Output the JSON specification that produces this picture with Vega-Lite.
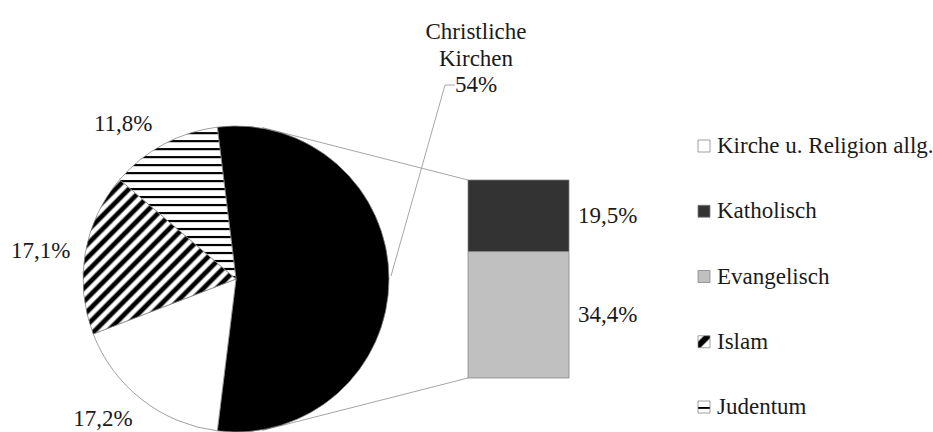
{
  "$schema": "https://vega.github.io/schema/vega-lite/v6.json",
  "width": 933,
  "height": 432,
  "autosize": {"type": "none"},
  "padding": 0,
  "background": "white",
  "config": {
    "view": {"stroke": null},
    "text": {"font": "Liberation Serif, Tinos, Times New Roman, DejaVu Serif, serif", "fontSize": 23, "fill": "#1a1a1a"}
  },
  "datasets": {
    "pie": [
      {"category": "Christliche Kirchen", "value": 53.9, "label": "Christliche Kirchen 54%"},
      {"category": "Kirche u. Religion allg.", "value": 17.2, "label": "17,2%"},
      {"category": "Islam", "value": 17.1, "label": "17,1%"},
      {"category": "Judentum", "value": 11.8, "label": "11,8%"}
    ],
    "bar": [
      {"category": "Katholisch", "value": 19.5, "label": "19,5%"},
      {"category": "Evangelisch", "value": 34.4, "label": "34,4%"}
    ],
    "legend": [
      {"category": "Kirche u. Religion allg."},
      {"category": "Katholisch"},
      {"category": "Evangelisch"},
      {"category": "Islam"},
      {"category": "Judentum"}
    ]
  },
  "resolve": {"scale": {"y": "independent"}},
  "layer": [
    {
      "data": {"values": [{}]},
      "mark": {"type": "rule", "stroke": "#a6a6a6", "strokeWidth": 1},
      "encoding": {"x": {"value": 262}, "y": {"value": 127.5}, "x2": {"value": 468}, "y2": {"value": 180}}
    },
    {
      "data": {"values": [{}]},
      "mark": {"type": "rule", "stroke": "#a6a6a6", "strokeWidth": 1},
      "encoding": {"x": {"value": 262}, "y": {"value": 430.5}, "x2": {"value": 468}, "y2": {"value": 378}}
    },
    {
      "data": {"name": "pie"},
      "mark": {"type": "arc", "radius": 153, "stroke": "#808080", "strokeWidth": 0.75},
      "encoding": {
        "x": {"value": 236},
        "y": {"value": 279},
        "theta": {"field": "value", "type": "quantitative", "stack": true, "scale": {"range": [-0.12252, 6.16067]}},
        "order": {"field": "value", "sort": "descending"},
        "detail": {"field": "category"},
        "fill": {
          "condition": [
            {"test": "datum.category === 'Christliche Kirchen'", "value": "#000000"},
            {"test": "datum.category === 'Judentum'", "value": {"gradient": "linear", "x1": 0, "y1": 0, "x2": 0, "y2": 1, "stops": [
              {"offset": 0, "color": "#ffffff"},
              {"offset": 0.0289, "color": "#ffffff"}, {"offset": 0.0358, "color": "#000000"}, {"offset": 0.0432, "color": "#000000"}, {"offset": 0.0500, "color": "#ffffff"},
              {"offset": 0.0816, "color": "#ffffff"}, {"offset": 0.0884, "color": "#000000"}, {"offset": 0.0958, "color": "#000000"}, {"offset": 0.1026, "color": "#ffffff"},
              {"offset": 0.1342, "color": "#ffffff"}, {"offset": 0.1411, "color": "#000000"}, {"offset": 0.1484, "color": "#000000"}, {"offset": 0.1553, "color": "#ffffff"},
              {"offset": 0.1868, "color": "#ffffff"}, {"offset": 0.1937, "color": "#000000"}, {"offset": 0.2011, "color": "#000000"}, {"offset": 0.2079, "color": "#ffffff"},
              {"offset": 0.2395, "color": "#ffffff"}, {"offset": 0.2463, "color": "#000000"}, {"offset": 0.2537, "color": "#000000"}, {"offset": 0.2605, "color": "#ffffff"},
              {"offset": 0.2921, "color": "#ffffff"}, {"offset": 0.2989, "color": "#000000"}, {"offset": 0.3063, "color": "#000000"}, {"offset": 0.3132, "color": "#ffffff"},
              {"offset": 0.3447, "color": "#ffffff"}, {"offset": 0.3516, "color": "#000000"}, {"offset": 0.3589, "color": "#000000"}, {"offset": 0.3658, "color": "#ffffff"},
              {"offset": 0.3974, "color": "#ffffff"}, {"offset": 0.4042, "color": "#000000"}, {"offset": 0.4116, "color": "#000000"}, {"offset": 0.4184, "color": "#ffffff"},
              {"offset": 0.4500, "color": "#ffffff"}, {"offset": 0.4568, "color": "#000000"}, {"offset": 0.4642, "color": "#000000"}, {"offset": 0.4711, "color": "#ffffff"},
              {"offset": 0.5026, "color": "#ffffff"}, {"offset": 0.5095, "color": "#000000"}, {"offset": 0.5168, "color": "#000000"}, {"offset": 0.5237, "color": "#ffffff"},
              {"offset": 0.5553, "color": "#ffffff"}, {"offset": 0.5621, "color": "#000000"}, {"offset": 0.5695, "color": "#000000"}, {"offset": 0.5763, "color": "#ffffff"},
              {"offset": 0.6079, "color": "#ffffff"}, {"offset": 0.6147, "color": "#000000"}, {"offset": 0.6221, "color": "#000000"}, {"offset": 0.6289, "color": "#ffffff"},
              {"offset": 0.6605, "color": "#ffffff"}, {"offset": 0.6674, "color": "#000000"}, {"offset": 0.6747, "color": "#000000"}, {"offset": 0.6816, "color": "#ffffff"},
              {"offset": 0.7132, "color": "#ffffff"}, {"offset": 0.7200, "color": "#000000"}, {"offset": 0.7274, "color": "#000000"}, {"offset": 0.7342, "color": "#ffffff"},
              {"offset": 0.7658, "color": "#ffffff"}, {"offset": 0.7726, "color": "#000000"}, {"offset": 0.7800, "color": "#000000"}, {"offset": 0.7868, "color": "#ffffff"},
              {"offset": 0.8184, "color": "#ffffff"}, {"offset": 0.8253, "color": "#000000"}, {"offset": 0.8326, "color": "#000000"}, {"offset": 0.8395, "color": "#ffffff"},
              {"offset": 0.8711, "color": "#ffffff"}, {"offset": 0.8779, "color": "#000000"}, {"offset": 0.8853, "color": "#000000"}, {"offset": 0.8921, "color": "#ffffff"},
              {"offset": 0.9237, "color": "#ffffff"}, {"offset": 0.9305, "color": "#000000"}, {"offset": 0.9379, "color": "#000000"}, {"offset": 0.9447, "color": "#ffffff"},
              {"offset": 0.9763, "color": "#ffffff"}, {"offset": 0.9832, "color": "#000000"}, {"offset": 0.9905, "color": "#000000"}, {"offset": 0.9974, "color": "#ffffff"},
              {"offset": 1, "color": "#ffffff"}
            ]}},
            {"test": "datum.category === 'Islam'", "value": {"gradient": "linear", "x1": 0, "y1": 0, "x2": 1, "y2": 1, "stops": [
              {"offset": 0.0000, "color": "#000000"}, {"offset": 0.0130, "color": "#000000"}, {"offset": 0.0217, "color": "#ffffff"}, {"offset": 0.0348, "color": "#ffffff"},
              {"offset": 0.0435, "color": "#000000"}, {"offset": 0.0565, "color": "#000000"}, {"offset": 0.0652, "color": "#ffffff"}, {"offset": 0.0783, "color": "#ffffff"},
              {"offset": 0.0870, "color": "#000000"}, {"offset": 0.1000, "color": "#000000"}, {"offset": 0.1087, "color": "#ffffff"}, {"offset": 0.1217, "color": "#ffffff"},
              {"offset": 0.1304, "color": "#000000"}, {"offset": 0.1435, "color": "#000000"}, {"offset": 0.1522, "color": "#ffffff"}, {"offset": 0.1652, "color": "#ffffff"},
              {"offset": 0.1739, "color": "#000000"}, {"offset": 0.1870, "color": "#000000"}, {"offset": 0.1957, "color": "#ffffff"}, {"offset": 0.2087, "color": "#ffffff"},
              {"offset": 0.2174, "color": "#000000"}, {"offset": 0.2304, "color": "#000000"}, {"offset": 0.2391, "color": "#ffffff"}, {"offset": 0.2522, "color": "#ffffff"},
              {"offset": 0.2609, "color": "#000000"}, {"offset": 0.2739, "color": "#000000"}, {"offset": 0.2826, "color": "#ffffff"}, {"offset": 0.2957, "color": "#ffffff"},
              {"offset": 0.3043, "color": "#000000"}, {"offset": 0.3174, "color": "#000000"}, {"offset": 0.3261, "color": "#ffffff"}, {"offset": 0.3391, "color": "#ffffff"},
              {"offset": 0.3478, "color": "#000000"}, {"offset": 0.3609, "color": "#000000"}, {"offset": 0.3696, "color": "#ffffff"}, {"offset": 0.3826, "color": "#ffffff"},
              {"offset": 0.3913, "color": "#000000"}, {"offset": 0.4043, "color": "#000000"}, {"offset": 0.4130, "color": "#ffffff"}, {"offset": 0.4261, "color": "#ffffff"},
              {"offset": 0.4348, "color": "#000000"}, {"offset": 0.4478, "color": "#000000"}, {"offset": 0.4565, "color": "#ffffff"}, {"offset": 0.4696, "color": "#ffffff"},
              {"offset": 0.4783, "color": "#000000"}, {"offset": 0.4913, "color": "#000000"}, {"offset": 0.5000, "color": "#ffffff"}, {"offset": 0.5130, "color": "#ffffff"},
              {"offset": 0.5217, "color": "#000000"}, {"offset": 0.5348, "color": "#000000"}, {"offset": 0.5435, "color": "#ffffff"}, {"offset": 0.5565, "color": "#ffffff"},
              {"offset": 0.5652, "color": "#000000"}, {"offset": 0.5783, "color": "#000000"}, {"offset": 0.5870, "color": "#ffffff"}, {"offset": 0.6000, "color": "#ffffff"},
              {"offset": 0.6087, "color": "#000000"}, {"offset": 0.6217, "color": "#000000"}, {"offset": 0.6304, "color": "#ffffff"}, {"offset": 0.6435, "color": "#ffffff"},
              {"offset": 0.6522, "color": "#000000"}, {"offset": 0.6652, "color": "#000000"}, {"offset": 0.6739, "color": "#ffffff"}, {"offset": 0.6870, "color": "#ffffff"},
              {"offset": 0.6957, "color": "#000000"}, {"offset": 0.7087, "color": "#000000"}, {"offset": 0.7174, "color": "#ffffff"}, {"offset": 0.7304, "color": "#ffffff"},
              {"offset": 0.7391, "color": "#000000"}, {"offset": 0.7522, "color": "#000000"}, {"offset": 0.7609, "color": "#ffffff"}, {"offset": 0.7739, "color": "#ffffff"},
              {"offset": 0.7826, "color": "#000000"}, {"offset": 0.7957, "color": "#000000"}, {"offset": 0.8043, "color": "#ffffff"}, {"offset": 0.8174, "color": "#ffffff"},
              {"offset": 0.8261, "color": "#000000"}, {"offset": 0.8391, "color": "#000000"}, {"offset": 0.8478, "color": "#ffffff"}, {"offset": 0.8609, "color": "#ffffff"},
              {"offset": 0.8696, "color": "#000000"}, {"offset": 0.8826, "color": "#000000"}, {"offset": 0.8913, "color": "#ffffff"}, {"offset": 0.9043, "color": "#ffffff"},
              {"offset": 0.9130, "color": "#000000"}, {"offset": 0.9261, "color": "#000000"}, {"offset": 0.9348, "color": "#ffffff"}, {"offset": 0.9478, "color": "#ffffff"},
              {"offset": 0.9565, "color": "#000000"}, {"offset": 0.9696, "color": "#000000"}, {"offset": 0.9783, "color": "#ffffff"}, {"offset": 0.9913, "color": "#ffffff"},
              {"offset": 1, "color": "#000000"}
            ]}}
          ],
          "value": "#ffffff"
        }
      }
    },
    {
      "data": {"name": "pie"},
      "mark": {
        "type": "text",
        "radius": 168,
        "lineBreak": " ",
        "lineHeight": 26.5,
        "align": {"expr": "datum.category === 'Christliche Kirchen' ? 'center' : 'right'"},
        "baseline": {"expr": "datum.category === 'Judentum' ? 'bottom' : datum.category === 'Islam' ? 'middle' : datum.category === 'Christliche Kirchen' ? 'alphabetic' : 'top'"},
        "dx": {"expr": "datum.category === 'Christliche Kirchen' ? 72 : datum.category === 'Judentum' ? -4 : 0"},
        "dy": {"expr": "datum.category === 'Christliche Kirchen' ? -240 : datum.category === 'Judentum' ? 5 : datum.category === 'Kirche u. Religion allg.' ? -3 : 0"}
      },
      "encoding": {
        "x": {"value": 236},
        "y": {"value": 279},
        "theta": {"field": "value", "type": "quantitative", "stack": true, "scale": {"range": [-0.12252, 6.16067]}},
        "order": {"field": "value", "sort": "descending"},
        "detail": {"field": "category"},
        "text": {"field": "label"}
      }
    },
    {
      "data": {"values": [{}]},
      "mark": {"type": "rule", "stroke": "#a6a6a6", "strokeWidth": 1},
      "encoding": {"x": {"value": 391}, "y": {"value": 276}, "x2": {"value": 445}, "y2": {"value": 85}}
    },
    {
      "data": {"values": [{}]},
      "mark": {"type": "rule", "stroke": "#a6a6a6", "strokeWidth": 1},
      "encoding": {"x": {"value": 445}, "y": {"value": 85}, "x2": {"value": 455}, "y2": {"value": 85}}
    },
    {
      "data": {"name": "bar"},
      "transform": [
        {"stack": "value", "groupby": [], "sort": [{"field": "category", "order": "ascending"}], "as": ["v0", "v1"]}
      ],
      "mark": {"type": "rect", "stroke": "#808080", "strokeWidth": 0.75},
      "encoding": {
        "x": {"value": 468},
        "x2": {"value": 569},
        "y": {"field": "v0", "type": "quantitative", "scale": {"domain": [-14.7, 102.9], "nice": false, "zero": false}, "axis": null},
        "y2": {"field": "v1"},
        "fill": {"field": "category", "type": "nominal", "scale": {"domain": ["Katholisch", "Evangelisch"], "range": ["#333333", "#c0c0c0"]}, "legend": null}
      }
    },
    {
      "data": {"name": "bar"},
      "transform": [
        {"stack": "value", "groupby": [], "sort": [{"field": "category", "order": "ascending"}], "as": ["v0", "v1"]},
        {"fold": ["v0", "v1"], "as": ["k", "v"]}
      ],
      "mark": {"type": "text", "align": "left", "baseline": "middle"},
      "encoding": {
        "x": {"value": 578},
        "y": {"aggregate": "mean", "field": "v", "type": "quantitative", "scale": {"domain": [-14.7, 102.9], "nice": false, "zero": false}, "axis": null},
        "text": {"field": "label", "type": "nominal"}
      }
    },
    {
      "data": {"name": "legend"},
      "encoding": {
        "y": {"field": "category", "type": "nominal", "sort": null, "scale": {"type": "point", "domain": ["Kirche u. Religion allg.", "Katholisch", "Evangelisch", "Islam", "Judentum"], "range": [146, 407], "padding": 0}, "axis": null}
      },
      "layer": [
        {
          "mark": {"type": "point", "shape": "square", "size": 144, "filled": true, "opacity": 1, "stroke": "#808080", "strokeWidth": 0.75},
          "encoding": {
            "x": {"value": 704},
            "fill": {
              "condition": [
                {"test": "datum.category === 'Katholisch'", "value": "#333333"},
                {"test": "datum.category === 'Evangelisch'", "value": "#c0c0c0"},
                {"test": "datum.category === 'Islam'", "value": {"gradient": "linear", "x1": 0, "y1": 0, "x2": 1, "y2": 1, "stops": [
                  {"offset": 0, "color": "#ffffff"}, {"offset": 0.2, "color": "#ffffff"}, {"offset": 0.3, "color": "#000000"}, {"offset": 0.55, "color": "#000000"}, {"offset": 0.65, "color": "#ffffff"}, {"offset": 1, "color": "#ffffff"}
                ]}},
                {"test": "datum.category === 'Judentum'", "value": {"gradient": "linear", "x1": 0, "y1": 0, "x2": 0, "y2": 1, "stops": [
                  {"offset": 0, "color": "#ffffff"}, {"offset": 0.48, "color": "#ffffff"}, {"offset": 0.52, "color": "#000000"}, {"offset": 0.62, "color": "#000000"}, {"offset": 0.66, "color": "#ffffff"}, {"offset": 1, "color": "#ffffff"}
                ]}}
              ],
              "value": "#ffffff"
            }
          }
        },
        {
          "mark": {"type": "text", "align": "left", "baseline": "middle"},
          "encoding": {
            "x": {"value": 717},
            "text": {"field": "category", "type": "nominal"}
          }
        }
      ]
    }
  ]
}
